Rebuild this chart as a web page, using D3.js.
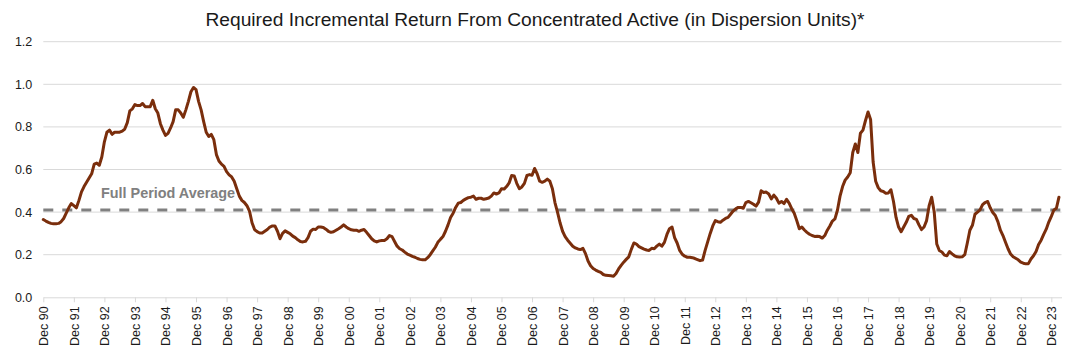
<!DOCTYPE html>
<html>
<head>
<meta charset="utf-8">
<script src="https://cdn.jsdelivr.net/npm/d3@7/dist/d3.min.js"></script>
<style>
  html, body { margin: 0; padding: 0; background: #ffffff; }
  svg { display: block; }
  text { font-family: "Liberation Sans", Arial, Helvetica, sans-serif; }
</style>
</head>
<body>
<svg id="chart" width="1078" height="357"></svg>
<script>
// ---------------- DATA ----------------
const title = "Required Incremental Return From Concentrated Active (in Dispersion Units)*";
const startDate = new Date(1990, 11, 1); // Dec 1990, monthly observations
// Monthly values, Dec 1990 .. Mar 2024 (each row = Dec..Nov of one year)
const values = [
  0.365,0.358,0.352,0.347,0.345,0.345,0.347,0.355,0.37,0.395,0.42,0.44,
  0.43,0.42,0.455,0.495,0.52,0.54,0.56,0.58,0.625,0.63,0.62,0.66,
  0.73,0.775,0.785,0.765,0.775,0.775,0.775,0.78,0.79,0.82,0.875,0.885,
  0.905,0.90,0.90,0.91,0.895,0.895,0.895,0.925,0.885,0.865,0.815,0.785,
  0.76,0.77,0.795,0.825,0.88,0.88,0.865,0.845,0.88,0.92,0.965,0.985,
  0.975,0.92,0.88,0.825,0.775,0.755,0.765,0.74,0.67,0.64,0.625,0.615,
  0.59,0.575,0.565,0.545,0.51,0.475,0.455,0.445,0.43,0.405,0.35,0.318,
  0.308,0.302,0.302,0.31,0.318,0.33,0.335,0.335,0.31,0.275,0.30,0.312,
  0.305,0.298,0.287,0.28,0.27,0.262,0.26,0.263,0.28,0.31,0.32,0.318,
  0.33,0.33,0.328,0.32,0.31,0.305,0.308,0.315,0.322,0.33,0.34,0.33,
  0.322,0.317,0.315,0.315,0.31,0.315,0.318,0.305,0.29,0.275,0.265,0.26,
  0.265,0.267,0.267,0.275,0.29,0.285,0.262,0.24,0.228,0.222,0.212,0.203,
  0.198,0.192,0.188,0.182,0.178,0.176,0.176,0.186,0.2,0.218,0.235,0.258,
  0.272,0.285,0.31,0.34,0.375,0.395,0.422,0.442,0.445,0.455,0.462,0.468,
  0.47,0.475,0.46,0.465,0.465,0.46,0.463,0.466,0.475,0.49,0.485,0.49,
  0.51,0.508,0.52,0.537,0.572,0.57,0.535,0.51,0.518,0.535,0.572,0.576,
  0.573,0.605,0.58,0.545,0.54,0.545,0.555,0.545,0.51,0.445,0.40,0.35,
  0.31,0.285,0.268,0.254,0.24,0.232,0.227,0.224,0.23,0.205,0.17,0.148,
  0.135,0.128,0.122,0.117,0.107,0.103,0.102,0.101,0.099,0.112,0.133,0.15,
  0.165,0.178,0.19,0.225,0.255,0.25,0.238,0.232,0.226,0.222,0.22,0.23,
  0.228,0.24,0.25,0.24,0.258,0.295,0.322,0.33,0.28,0.255,0.22,0.202,
  0.193,0.188,0.188,0.186,0.182,0.177,0.172,0.175,0.22,0.26,0.30,0.335,
  0.36,0.355,0.352,0.362,0.37,0.375,0.39,0.405,0.415,0.422,0.422,0.418,
  0.445,0.45,0.444,0.437,0.428,0.447,0.50,0.492,0.494,0.485,0.462,0.48,
  0.465,0.442,0.45,0.44,0.46,0.442,0.416,0.395,0.36,0.322,0.33,0.316,
  0.305,0.296,0.29,0.286,0.287,0.285,0.278,0.29,0.315,0.335,0.358,0.368,
  0.41,0.475,0.52,0.55,0.565,0.585,0.68,0.72,0.68,0.77,0.785,0.83,
  0.87,0.835,0.635,0.545,0.515,0.50,0.497,0.488,0.49,0.505,0.45,0.375,
  0.33,0.308,0.33,0.352,0.38,0.385,0.37,0.366,0.34,0.318,0.33,0.36,
  0.43,0.47,0.40,0.25,0.22,0.213,0.198,0.195,0.215,0.204,0.195,0.19,
  0.189,0.19,0.20,0.255,0.315,0.338,0.39,0.40,0.41,0.435,0.445,0.45,
  0.42,0.398,0.384,0.355,0.315,0.29,0.258,0.228,0.203,0.19,0.183,0.176,
  0.165,0.16,0.157,0.158,0.18,0.195,0.215,0.248,0.268,0.295,0.32,0.353,
  0.38,0.41,0.418,0.47
];
const fullPeriodAverage = 0.41;
const averageLabel = "Full Period Average";
const xTickLabels = ["Dec 90","Dec 91","Dec 92","Dec 93","Dec 94","Dec 95","Dec 96","Dec 97",
  "Dec 98","Dec 99","Dec 00","Dec 01","Dec 02","Dec 03","Dec 04","Dec 05","Dec 06","Dec 07",
  "Dec 08","Dec 09","Dec 10","Dec 11","Dec 12","Dec 13","Dec 14","Dec 15","Dec 16","Dec 17",
  "Dec 18","Dec 19","Dec 20","Dec 21","Dec 22","Dec 23"];
const yTicks = [0, 0.2, 0.4, 0.6, 0.8, 1.0, 1.2];

// ---------------- CHART ----------------
const svg = d3.select("#chart");
const plotLeft = 43.3, plotRight = 1061.5, plotTop = 41.7, plotBottom = 297.3;

const dates = values.map((v, i) => d3.timeMonth.offset(startDate, i));
const data = values.map((v, i) => ({ i, date: dates[i], v }));

const x = d3.scaleLinear().domain([0, 400]).range([plotLeft, plotRight]);
const y = d3.scaleLinear().domain([0, 1.2]).range([plotBottom, plotTop]);

// title
svg.append("text")
  .attr("x", 535).attr("y", 26)
  .attr("text-anchor", "middle")
  .attr("font-size", 19.2)
  .attr("fill", "#1a1a1a")
  .text(title);

// gridlines
svg.append("g").selectAll("line")
  .data(yTicks.filter(t => t > 0))
  .join("line")
  .attr("x1", plotLeft).attr("x2", plotRight)
  .attr("y1", d => y(d)).attr("y2", d => y(d))
  .attr("stroke", "#d9d9d9").attr("stroke-width", 1);

// y axis labels
const yAxis = d3.axisLeft(y).tickValues(yTicks).tickFormat(d3.format(".1f"))
  .tickSize(0).tickPadding(11);
const gy = svg.append("g").attr("transform", `translate(${plotLeft},0)`).call(yAxis);
gy.select(".domain").remove();
gy.selectAll("text").attr("font-size", 12.5).attr("fill", "#1a1a1a")
  .style("font-family", '"Liberation Sans", Arial, sans-serif');

// x axis
const xAxis = d3.axisBottom(x)
  .tickValues(xTickLabels.map((d, k) => k * 12))
  .tickFormat((d, k) => xTickLabels[k])
  .tickSizeInner(5).tickSizeOuter(0);
const gx = svg.append("g").attr("transform", `translate(0,${plotBottom})`).call(xAxis);
gx.select(".domain").attr("stroke", "#d9d9d9").attr("stroke-width", 1);
gx.selectAll(".tick line").attr("stroke", "#d9d9d9");
gx.selectAll("text")
  .attr("transform", "rotate(-90)")
  .attr("x", -9).attr("y", 0).attr("dy", "0.36em")
  .attr("text-anchor", "end")
  .attr("font-size", 12.5).attr("fill", "#1a1a1a")
  .style("font-family", '"Liberation Sans", Arial, sans-serif');

// average dashed line
svg.append("line")
  .attr("x1", plotLeft).attr("x2", plotRight)
  .attr("y1", y(fullPeriodAverage)).attr("y2", y(fullPeriodAverage))
  .attr("stroke", "#808080").attr("stroke-width", 3)
  .attr("stroke-dasharray", "10,9");

svg.append("text")
  .attr("x", 101).attr("y", 197.5)
  .attr("font-size", 14.4).attr("font-weight", "bold")
  .attr("fill", "#808080")
  .text(averageLabel);

// main line
const line = d3.line().x(d => x(d.i)).y(d => y(d.v));
svg.append("path")
  .datum(data)
  .attr("d", line)
  .attr("fill", "none")
  .attr("stroke", "#7a2e0c")
  .attr("stroke-width", 3)
  .attr("stroke-linejoin", "round")
  .attr("stroke-linecap", "round");
</script>
</body>
</html>
